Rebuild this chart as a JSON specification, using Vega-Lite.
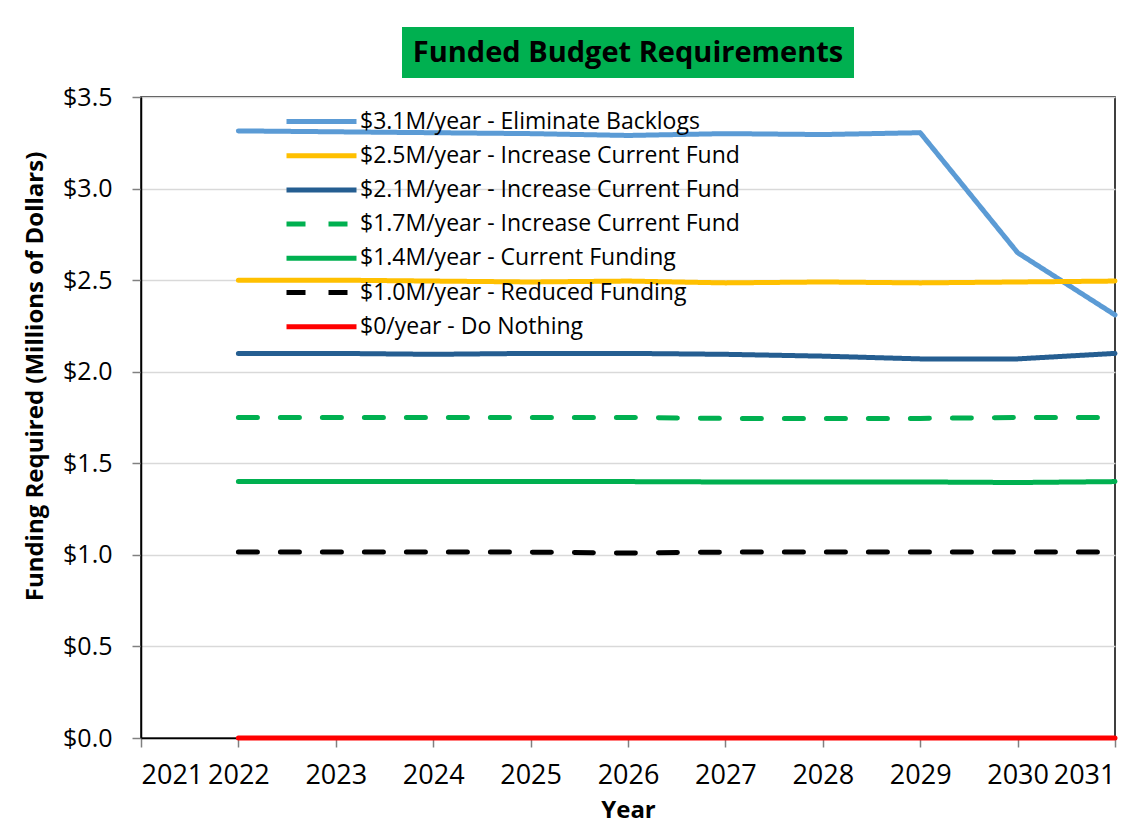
{
  "$schema": "https://vega.github.io/schema/vega-lite/v6.json",
  "background": "white",
  "padding": {"left": 22, "top": 27, "right": 5, "bottom": 5},
  "bounds": "flush",
  "center": true,
  "spacing": 19,
  "config": {
    "font": "Open Sans",
    "view": {"stroke": null}
  },
  "vconcat": [
    {
      "width": 452,
      "height": 51,
      "view": {"fill": "#00B050", "stroke": null},
      "data": {"values": [{"title": "Funded Budget Requirements"}]},
      "mark": {"type": "text", "font": "Open Sans", "fontSize": 29, "fontWeight": "bold", "color": "black", "baseline": "middle", "align": "center"},
      "encoding": {"text": {"field": "title", "type": "nominal"}}
    },
    {
      "width": 974,
      "height": 641,
      "view": {"stroke": "black", "strokeWidth": 1.5},
      "data": {"values": [
        {"series": "$3.1M/year - Eliminate Backlogs", "year": 2022, "value": 3.315},
        {"series": "$3.1M/year - Eliminate Backlogs", "year": 2023, "value": 3.31},
        {"series": "$3.1M/year - Eliminate Backlogs", "year": 2024, "value": 3.305},
        {"series": "$3.1M/year - Eliminate Backlogs", "year": 2025, "value": 3.3},
        {"series": "$3.1M/year - Eliminate Backlogs", "year": 2026, "value": 3.29},
        {"series": "$3.1M/year - Eliminate Backlogs", "year": 2027, "value": 3.3},
        {"series": "$3.1M/year - Eliminate Backlogs", "year": 2028, "value": 3.295},
        {"series": "$3.1M/year - Eliminate Backlogs", "year": 2029, "value": 3.305},
        {"series": "$3.1M/year - Eliminate Backlogs", "year": 2030, "value": 2.65},
        {"series": "$3.1M/year - Eliminate Backlogs", "year": 2031, "value": 2.31},
        {"series": "$2.5M/year - Increase Current Fund", "year": 2022, "value": 2.5},
        {"series": "$2.5M/year - Increase Current Fund", "year": 2023, "value": 2.5},
        {"series": "$2.5M/year - Increase Current Fund", "year": 2024, "value": 2.495},
        {"series": "$2.5M/year - Increase Current Fund", "year": 2025, "value": 2.49},
        {"series": "$2.5M/year - Increase Current Fund", "year": 2026, "value": 2.495},
        {"series": "$2.5M/year - Increase Current Fund", "year": 2027, "value": 2.485},
        {"series": "$2.5M/year - Increase Current Fund", "year": 2028, "value": 2.49},
        {"series": "$2.5M/year - Increase Current Fund", "year": 2029, "value": 2.485},
        {"series": "$2.5M/year - Increase Current Fund", "year": 2030, "value": 2.49},
        {"series": "$2.5M/year - Increase Current Fund", "year": 2031, "value": 2.495},
        {"series": "$2.1M/year - Increase Current Fund", "year": 2022, "value": 2.1},
        {"series": "$2.1M/year - Increase Current Fund", "year": 2023, "value": 2.1},
        {"series": "$2.1M/year - Increase Current Fund", "year": 2024, "value": 2.095},
        {"series": "$2.1M/year - Increase Current Fund", "year": 2025, "value": 2.1},
        {"series": "$2.1M/year - Increase Current Fund", "year": 2026, "value": 2.1},
        {"series": "$2.1M/year - Increase Current Fund", "year": 2027, "value": 2.095},
        {"series": "$2.1M/year - Increase Current Fund", "year": 2028, "value": 2.085},
        {"series": "$2.1M/year - Increase Current Fund", "year": 2029, "value": 2.07},
        {"series": "$2.1M/year - Increase Current Fund", "year": 2030, "value": 2.07},
        {"series": "$2.1M/year - Increase Current Fund", "year": 2031, "value": 2.1},
        {"series": "$1.7M/year - Increase Current Fund", "year": 2022, "value": 1.75},
        {"series": "$1.7M/year - Increase Current Fund", "year": 2023, "value": 1.75},
        {"series": "$1.7M/year - Increase Current Fund", "year": 2024, "value": 1.75},
        {"series": "$1.7M/year - Increase Current Fund", "year": 2025, "value": 1.75},
        {"series": "$1.7M/year - Increase Current Fund", "year": 2026, "value": 1.75},
        {"series": "$1.7M/year - Increase Current Fund", "year": 2027, "value": 1.745},
        {"series": "$1.7M/year - Increase Current Fund", "year": 2028, "value": 1.745},
        {"series": "$1.7M/year - Increase Current Fund", "year": 2029, "value": 1.745},
        {"series": "$1.7M/year - Increase Current Fund", "year": 2030, "value": 1.75},
        {"series": "$1.7M/year - Increase Current Fund", "year": 2031, "value": 1.75},
        {"series": "$1.4M/year - Current Funding", "year": 2022, "value": 1.4},
        {"series": "$1.4M/year - Current Funding", "year": 2023, "value": 1.4},
        {"series": "$1.4M/year - Current Funding", "year": 2024, "value": 1.4},
        {"series": "$1.4M/year - Current Funding", "year": 2025, "value": 1.4},
        {"series": "$1.4M/year - Current Funding", "year": 2026, "value": 1.4},
        {"series": "$1.4M/year - Current Funding", "year": 2027, "value": 1.398},
        {"series": "$1.4M/year - Current Funding", "year": 2028, "value": 1.398},
        {"series": "$1.4M/year - Current Funding", "year": 2029, "value": 1.398},
        {"series": "$1.4M/year - Current Funding", "year": 2030, "value": 1.395},
        {"series": "$1.4M/year - Current Funding", "year": 2031, "value": 1.4},
        {"series": "$1.0M/year - Reduced Funding", "year": 2022, "value": 1.015},
        {"series": "$1.0M/year - Reduced Funding", "year": 2023, "value": 1.015},
        {"series": "$1.0M/year - Reduced Funding", "year": 2024, "value": 1.015},
        {"series": "$1.0M/year - Reduced Funding", "year": 2025, "value": 1.015},
        {"series": "$1.0M/year - Reduced Funding", "year": 2026, "value": 1.01},
        {"series": "$1.0M/year - Reduced Funding", "year": 2027, "value": 1.015},
        {"series": "$1.0M/year - Reduced Funding", "year": 2028, "value": 1.015},
        {"series": "$1.0M/year - Reduced Funding", "year": 2029, "value": 1.015},
        {"series": "$1.0M/year - Reduced Funding", "year": 2030, "value": 1.015},
        {"series": "$1.0M/year - Reduced Funding", "year": 2031, "value": 1.015},
        {"series": "$0/year - Do Nothing", "year": 2022, "value": 0},
        {"series": "$0/year - Do Nothing", "year": 2023, "value": 0},
        {"series": "$0/year - Do Nothing", "year": 2024, "value": 0},
        {"series": "$0/year - Do Nothing", "year": 2025, "value": 0},
        {"series": "$0/year - Do Nothing", "year": 2026, "value": 0},
        {"series": "$0/year - Do Nothing", "year": 2027, "value": 0},
        {"series": "$0/year - Do Nothing", "year": 2028, "value": 0},
        {"series": "$0/year - Do Nothing", "year": 2029, "value": 0},
        {"series": "$0/year - Do Nothing", "year": 2030, "value": 0},
        {"series": "$0/year - Do Nothing", "year": 2031, "value": 0}
      ]},
      "mark": {"type": "line", "strokeWidth": 5, "strokeCap": "round", "strokeJoin": "round", "clip": false},
      "encoding": {
        "x": {
          "field": "year", "type": "quantitative",
          "scale": {"domain": [2021, 2031], "nice": false, "zero": false},
          "axis": {
            "title": "Year", "values": [2021, 2022, 2023, 2024, 2025, 2026, 2027, 2028, 2029, 2030, 2031],
            "format": "d", "grid": false, "domainColor": "black", "domainWidth": 1.5,
            "tickColor": "#808080", "tickSize": 9, "tickWidth": 1.5,
            "labelFont": "Open Sans", "labelFontSize": 27, "labelColor": "black", "labelPadding": 15,
            "titleFont": "Open Sans", "titleFontSize": 24, "titleFontWeight": "bold", "titleColor": "black", "titlePadding": 10
          }
        },
        "y": {
          "field": "value", "type": "quantitative",
          "scale": {"domain": [0, 3.5], "nice": false},
          "axis": {
            "title": "Funding Required (Millions of Dollars)",
            "values": [0, 0.5, 1, 1.5, 2, 2.5, 3, 3.5],
            "format": "$.1f", "grid": true, "gridColor": "#D9D9D9", "gridWidth": 1.5,
            "domainColor": "black", "domainWidth": 1.5,
            "tickColor": "#808080", "tickSize": 9, "tickWidth": 1.5,
            "labelFont": "Open Sans", "labelFontSize": 25, "labelColor": "black", "labelPadding": 20,
            "titleFont": "Open Sans", "titleFontSize": 24, "titleFontWeight": "bold", "titleColor": "black", "titlePadding": 15,
            "titleY": 279
          }
        },
        "color": {
          "field": "series", "type": "nominal",
          "scale": {
            "domain": ["$3.1M/year - Eliminate Backlogs", "$2.5M/year - Increase Current Fund", "$2.1M/year - Increase Current Fund", "$1.7M/year - Increase Current Fund", "$1.4M/year - Current Funding", "$1.0M/year - Reduced Funding", "$0/year - Do Nothing"],
            "range": ["#5B9BD5", "#FFC000", "#255E91", "#00B050", "#00B050", "#000000", "#FF0000"]
          },
          "legend": {
            "title": null, "orient": "none", "legendX": 164, "legendY": 78,
            "symbolType": "M-2.5,0H2.5", "symbolSize": 784, "symbolStrokeWidth": 5,
            "labelFont": "Open Sans", "labelFontSize": 23, "labelColor": "black", "labelLimit": 500,
            "labelOffset": 22, "rowPadding": 5.2
          }
        },
        "strokeDash": {
          "field": "series", "type": "nominal",
          "scale": {
            "domain": ["$3.1M/year - Eliminate Backlogs", "$2.5M/year - Increase Current Fund", "$2.1M/year - Increase Current Fund", "$1.7M/year - Increase Current Fund", "$1.4M/year - Current Funding", "$1.0M/year - Reduced Funding", "$0/year - Do Nothing"],
            "range": [[1, 0], [1, 0], [1, 0], [19, 23], [1, 0], [19, 23], [1, 0]]
          },
          "legend": {
            "title": null, "orient": "none", "legendX": 164, "legendY": 78,
            "symbolType": "M-2.5,0H2.5", "symbolSize": 784, "symbolStrokeWidth": 5,
            "labelFont": "Open Sans", "labelFontSize": 23, "labelColor": "black", "labelLimit": 500,
            "labelOffset": 22, "rowPadding": 5.2
          }
        }
      }
    }
  ]
}
